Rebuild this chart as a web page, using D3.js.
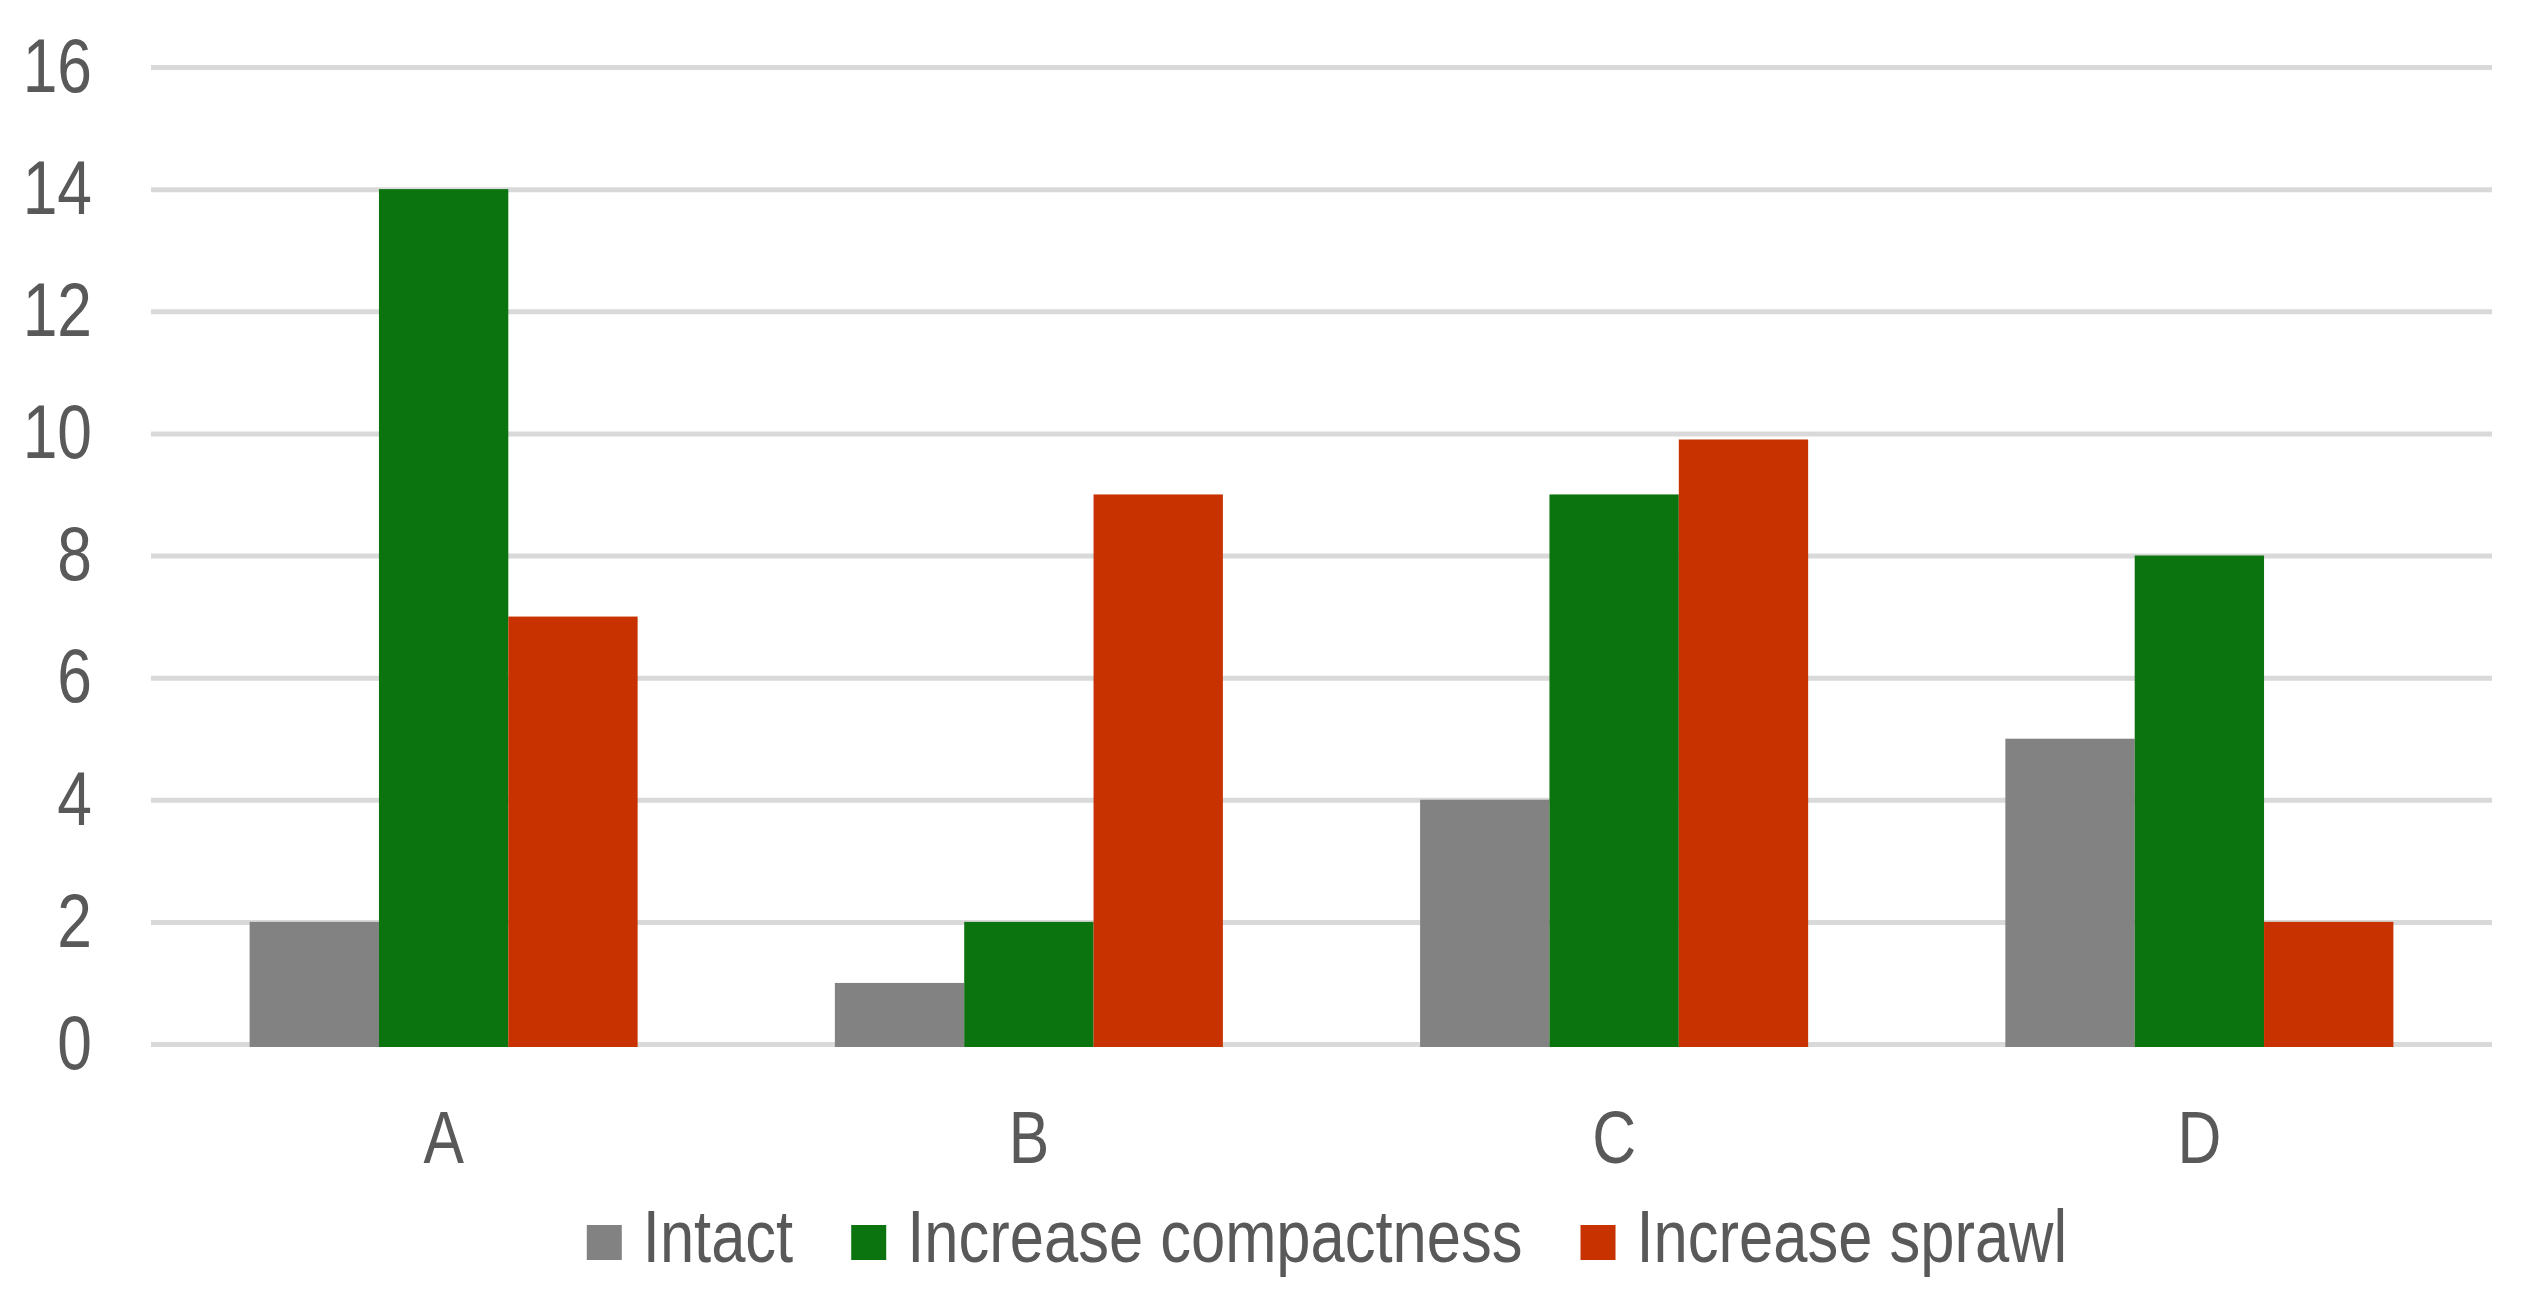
<!DOCTYPE html>
<html>
<head>
<meta charset="utf-8">
<script src="https://cdn.jsdelivr.net/npm/d3@7"></script>
<style>
  body { margin: 0; background: #fff; }
  text { font-family: "Liberation Sans Narrow", "Arial Narrow", "Liberation Sans", Arial, sans-serif; }
</style>
</head>
<body>
<svg id="chart"></svg>
<script>
const categories = ["A", "B", "C", "D"];
const seriesNames = ["Intact", "Increase compactness", "Increase sprawl"];
const intact = [2, 1, 4, 5];
const compactness = [14, 2, 9, 8];
const sprawl = [7, 9, 9.9, 2];
const yTicks = [0, 2, 4, 6, 8, 10, 12, 14, 16];
const colors = ["#828282", "#0b740e", "#c83200"];

const width = 2523, height = 1299;
const margin = { top: 67, right: 31, bottom: 255, left: 151 };
const textColor = "#595959";
const squeeze = 0.82; // the original font is a narrow one

const svg = d3.select("#chart")
    .attr("width", width)
    .attr("height", height);

// make text narrow, whatever font we actually got
function narrow(sel) {
    sel.each(function () {
        const len = this.getComputedTextLength();
        d3.select(this)
            .attr("textLength", len * squeeze)
            .attr("lengthAdjust", "spacingAndGlyphs")
            .property("__len", len * squeeze);
    });
}

const x0 = d3.scaleBand()
    .domain(categories)
    .range([margin.left, width - margin.right])
    .paddingInner(0.337)
    .paddingOuter(0.1685);

const x1 = d3.scaleBand()
    .domain(seriesNames)
    .range([0, x0.bandwidth()]);

const y = d3.scaleLinear()
    .domain([0, 16])
    .range([height - margin.bottom, margin.top]);

// gridlines
const grid = svg.append("g")
    .attr("transform", `translate(${margin.left},0)`)
    .call(d3.axisLeft(y).tickValues(yTicks).tickSize(-(width - margin.left - margin.right)).tickFormat(""));
grid.select(".domain").remove();
grid.selectAll("line").attr("stroke", "#d9d9d9").attr("stroke-width", 5);

// y labels
const yAxis = svg.append("g")
    .attr("transform", `translate(${margin.left},0)`)
    .call(d3.axisLeft(y).tickValues(yTicks).tickSize(0).tickPadding(59));
yAxis.select(".domain").remove();
yAxis.attr("font-family", null);
yAxis.selectAll("text").attr("font-size", 76).attr("fill", textColor).call(narrow);

// bars
const rows = categories.map((c, i) => ({
    cat: c,
    vals: [intact[i], compactness[i], sprawl[i]]
}));

svg.append("g").selectAll("g")
    .data(rows)
    .enter()
    .append("g")
    .attr("transform", d => `translate(${x0(d.cat)},0)`)
    .selectAll("rect")
    .data(d => d.vals.map((v, j) => ({ key: seriesNames[j], value: v, color: colors[j] })))
    .enter()
    .append("rect")
    .attr("x", d => x1(d.key))
    .attr("width", x1.bandwidth())
    .attr("y", d => y(d.value))
    .attr("height", d => y(0) - y(d.value) + 3)
    .attr("fill", d => d.color);

// x labels
const xAxis = svg.append("g")
    .attr("transform", `translate(0,${y(0)})`)
    .call(d3.axisBottom(x0).tickSize(0).tickPadding(66));
xAxis.select(".domain").remove();
xAxis.attr("font-family", null);
xAxis.selectAll("text").attr("font-size", 74).attr("fill", textColor).call(narrow);

// legend
const legend = svg.append("g");
const items = legend.selectAll("g")
    .data(seriesNames)
    .enter()
    .append("g");

items.append("rect")
    .attr("width", 35)
    .attr("height", 35)
    .attr("y", 1225)
    .attr("fill", (d, i) => colors[i]);

items.append("text")
    .attr("x", 56)
    .attr("y", 1262)
    .attr("font-size", 75)
    .attr("fill", textColor)
    .text(d => d)
    .call(narrow);

let offset = 0;
const positions = [];
items.each(function () {
    positions.push(offset);
    offset += 56 + this.querySelector("text").__len + 58;
});
const total = offset - 58;
const startX = 1327 - total / 2;
items.attr("transform", (d, i) => `translate(${startX + positions[i]},0)`);
</script>
</body>
</html>
